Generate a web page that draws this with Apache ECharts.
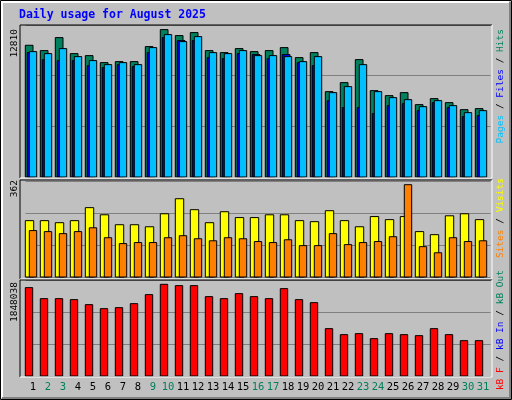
<!DOCTYPE html>
<html><head><meta charset="utf-8">
<script src="https://cdn.jsdelivr.net/npm/echarts@6/dist/echarts.min.js"></script>
<style>html,body{margin:0;padding:0;background:#fff}#c{width:512px;height:400px}</style>
</head><body><div id="c"></div>
<script>
const days = ['1','2','3','4','5','6','7','8','9','10','11','12','13','14','15','16','17','18','19','20','21','22','23','24','25','26','27','28','29','30','31'];
const weekend = [2,3,9,10,16,17,23,24,30,31];
const hits = [11448,10984,12114,10723,10549,9941,10028,10028,11332,12810,12288,12549,10984,10810,11158,10897,10984,11245,10375,10810,7419,8202,10202,7506,7071,7332,6289,6811,6463,5854,5941];
const files = [10810,10201,10114,10114,9680,9505,9766,9593,10810,12114,11853,11853,10375,10288,10723,10636,10288,10636,9940,9680,6637,6028,6028,5506,6202,6376,5767,6463,6028,5245,5332];
const pages = [10897,10723,11158,10462,10114,9766,9940,9766,11245,12375,11766,12201,10810,10723,10984,10549,10549,10462,10027,10462,7332,7854,9766,7419,6897,6723,6115,6637,6202,5593,5767];
const visits = [221,221,213,221,272,244,205,205,197,248,307,264,213,256,233,233,244,244,221,217,260,221,197,237,225,237,178,166,240,248,225];
const sites = [182,178,170,178,193,154,131,135,135,154,162,150,142,154,150,139,135,146,123,123,170,127,135,139,158,362,119,95,154,139,142];
const kbF = [1780800,1559000,1559000,1538900,1438100,1357400,1377600,1458200,1639700,1848038,1821100,1821100,1599400,1559000,1659800,1599400,1559000,1760600,1538900,1478400,954200,833300,853400,752600,853400,833300,813100,954200,833300,712300,712300];
const maxLabels = ['12810','362','1848038'];

function barSeries(data, grid, color, x0, x1) {
  return {
    type: 'custom', xAxisIndex: grid, yAxisIndex: grid,
    data: data.map((v, i) => [i, v]),
    renderItem: function (params, api) {
      const b = api.coord([api.value(0), 0]);
      const t = api.coord([api.value(0), api.value(1)]);
      return {type: 'rect', shape: {x: b[0] + x0, y: t[1], width: x1 - x0, height: b[1] - t[1]},
        style: {fill: color, stroke: '#000', lineWidth: 1}};
    }
  };
}
const grids = [{left:25.5,top:25,width:465,height:152},{left:25.5,top:181,width:465,height:96},{left:25.5,top:280,width:465,height:96}];
const maxes = [13210, 376.5, 1934700];
const font = 'DejaVu Sans Mono';
const fs = '9.5px ' + font;
const chart = echarts.init(document.getElementById('c'));
const frames = [[20,25,492,178],[20,180,492,279],[20,280,492,377]];
const graphic = [
  {type:'rect', shape:{x:0.5,y:0.5,width:511,height:399}, style:{fill:'#c0c0c0', stroke:'#000', lineWidth:1}, z:-10},
  {type:'polyline', shape:{points:[[2,398],[2,2],[509,2]]}, style:{stroke:'#fff', lineWidth:2, fill:null}, z:-9},
  {type:'polyline', shape:{points:[[510,2],[510,398],[2,398]]}, style:{stroke:'#808080', lineWidth:2, fill:null}, z:-9},
  {type:'text', x:19, y:15, style:{text:'Daily usage for August 2025', fill:'#0000ff', font:'bold 11.5px ' + font, verticalAlign:'middle'}},
];
frames.forEach(f => {
  graphic.push({type:'polyline', shape:{points:[[f[0],f[3]],[f[0],f[1]],[f[2],f[1]]]}, style:{stroke:'#000', lineWidth:1, fill:null}, z:50});
  graphic.push({type:'polyline', shape:{points:[[f[2],f[1]],[f[2],f[3]],[f[0],f[3]]]}, style:{stroke:'#fff', lineWidth:1, fill:null}, z:50});
});
[[29,0],[180,1],[282,2]].forEach(p => graphic.push({type:'text', x:15, y:p[0], rotation:Math.PI/2,
  style:{text:maxLabels[p[1]], fill:'#000', font:fs, align:'right', verticalAlign:'middle'}}));
const rightLabels = [
  [29, '{c|Pages} {k|/} {b|Files} {k|/} {g|Hits}'],
  [178, '{o|Sites} {k|/} {y|Visits}'],
  [270, '{r|kB F} {k|/} {b|kB In} {k|/} {g|kB Out}']
];
rightLabels.forEach(r => graphic.push({type:'text', x:501, y:r[0], rotation:Math.PI/2,
  style:{text:r[1], font:fs, align:'right', verticalAlign:'middle',
    rich:{c:{fill:'#00c0ff',font:fs},k:{fill:'#000',font:fs},b:{fill:'#0000ff',font:fs},g:{fill:'#00805c',font:fs},o:{fill:'#ff8000',font:fs},y:{fill:'#ffff00',font:fs},r:{fill:'#ff0000',font:fs}}}}));

chart.setOption({
  animation: false,
  grid: grids,
  xAxis: grids.map((g, i) => ({type:'category', gridIndex:i, data:days, boundaryGap:true,
    axisLine:{show:false}, axisTick:{show:false},
    axisLabel:{show:i===2, interval:0, margin:6, fontFamily:font, fontSize:10.5,
      color: (v) => weekend.includes(+v) ? '#00805c' : '#000'}})),
  yAxis: grids.map((g, i) => ({type:'value', gridIndex:i, min:0, max:maxes[i], interval:maxes[i]/3,
    axisLabel:{show:false}, axisLine:{show:false}, axisTick:{show:false},
    splitLine:{show:true, lineStyle:{color:'#808080', width:1}}})),
  graphic: graphic,
  series: [
    barSeries(hits, 0, '#00805c', -7.7, 0),
    barSeries(files, 0, '#0000ff', -5.7, 2),
    barSeries(pages, 0, '#00c0ff', -3.7, 3.7),
    barSeries(visits, 1, '#ffff00', -7.7, 0.7),
    barSeries(sites, 1, '#ff8000', -3.7, 3.7),
    barSeries(kbF, 2, '#ff0000', -7.7, -0.3)
  ]
});
</script></body></html>
